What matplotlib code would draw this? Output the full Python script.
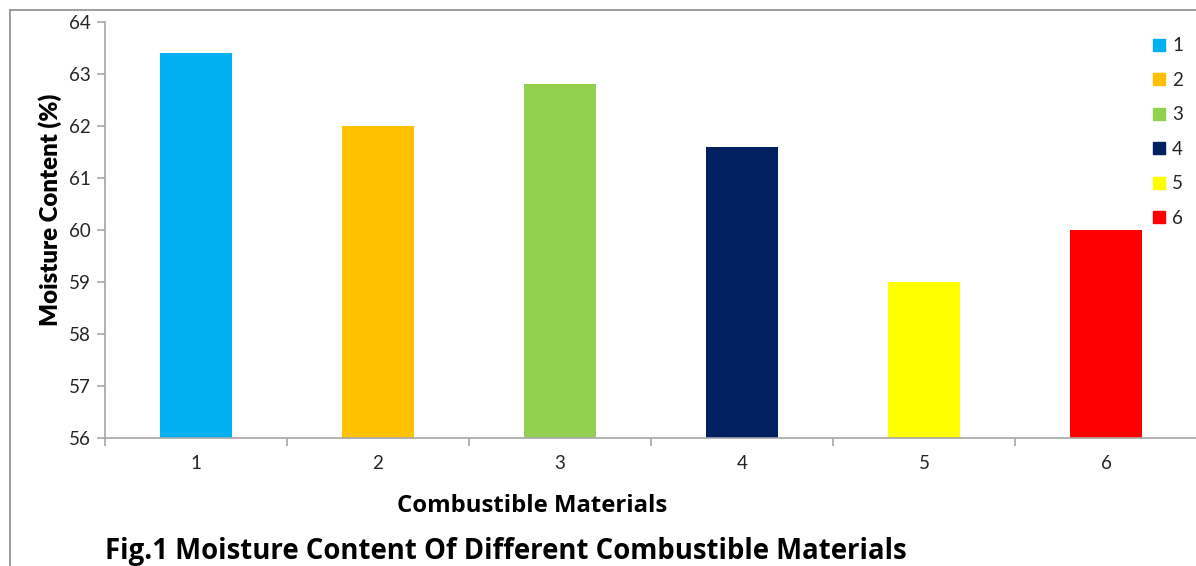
import matplotlib
matplotlib.use("Agg")
import matplotlib.pyplot as plt
from matplotlib.lines import Line2D
import numpy as np

categories = ["1", "2", "3", "4", "5", "6"]
values = [63.4, 62.0, 62.8, 61.6, 59.0, 60.0]
colors = ["#00B0F0", "#FFC000", "#92D050", "#002060", "#FFFF00", "#FF0000"]
yticks = [56, 57, 58, 59, 60, 61, 62, 63, 64]

plt.rcParams['font.family'] = ['Lato', 'DejaVu Sans']

W, H = 1196, 566
fig = plt.figure(figsize=(W/100, H/100), dpi=100)
ax = fig.add_axes([105/W, 1-438/H, (1197-105)/W, (438-22)/H])

x = np.arange(len(categories))
bars = ax.bar(x, [v - 56 for v in values], bottom=56, width=0.4, color=colors, zorder=2)

ax.set_xlim(-0.5, len(categories)-0.5)
ax.set_ylim(56, 64)
ax.set_yticks(yticks)
ax.set_yticklabels([str(t) for t in yticks], fontsize=13.5, color="#262626")
ax.set_xticks(x)
ax.set_xticklabels(categories, fontsize=13.5, color="#262626")
ax.tick_params(axis='x', which='major', length=0, pad=12)
ax.set_xticks(np.arange(-0.5, len(categories)), minor=True)
ax.tick_params(axis='x', which='minor', length=6, color="#A6A6A6", width=1.2)
ax.tick_params(axis='y', length=6, color="#A6A6A6", width=1.2, pad=4)

for s in ['top', 'right']:
    ax.spines[s].set_visible(False)
for s in ['left', 'bottom']:
    ax.spines[s].set_color("#A6A6A6")
    ax.spines[s].set_linewidth(1.2)

fig.text(50/W, 1-210/H, "Moisture Content (%)", rotation=90, ha='center', va='center',
         fontsize=17.3, fontweight='heavy', color='black')
fig.text(532/W, 1-506/H, "Combustible Materials", ha='center', va='center',
         fontsize=17.2, fontweight='bold', color='black', family=['Open Sans', 'DejaVu Sans'])
fig.text(105/W, 1-552/H, "Fig.1 Moisture Content Of Different Combustible Materials",
         ha='left', va='center', fontsize=19.8, fontweight='bold', color='black',
         family=['Open Sans', 'DejaVu Sans'])

handles = [Line2D([0], [0], marker='s', linestyle='none', markersize=8,
                  markerfacecolor=c, markeredgecolor=c) for c in colors]
leg = fig.legend(handles, categories, loc='upper left', bbox_to_anchor=(1142/W, 1-28/H),
                 frameon=False, fontsize=13.5, handlelength=0.8, handletextpad=0.3,
                 labelspacing=0.93, borderpad=0)
for t in leg.get_texts():
    t.set_color("#262626")

# outer chart frame
fig.add_artist(Line2D([10/W, 10/W], [0, 1-10/H], transform=fig.transFigure,
                      color="#8C8C8C", linewidth=1.2))
fig.add_artist(Line2D([10/W, 1], [1-10/H, 1-10/H], transform=fig.transFigure,
                      color="#8C8C8C", linewidth=1.2))

fig.savefig("out.png", dpi=100)
